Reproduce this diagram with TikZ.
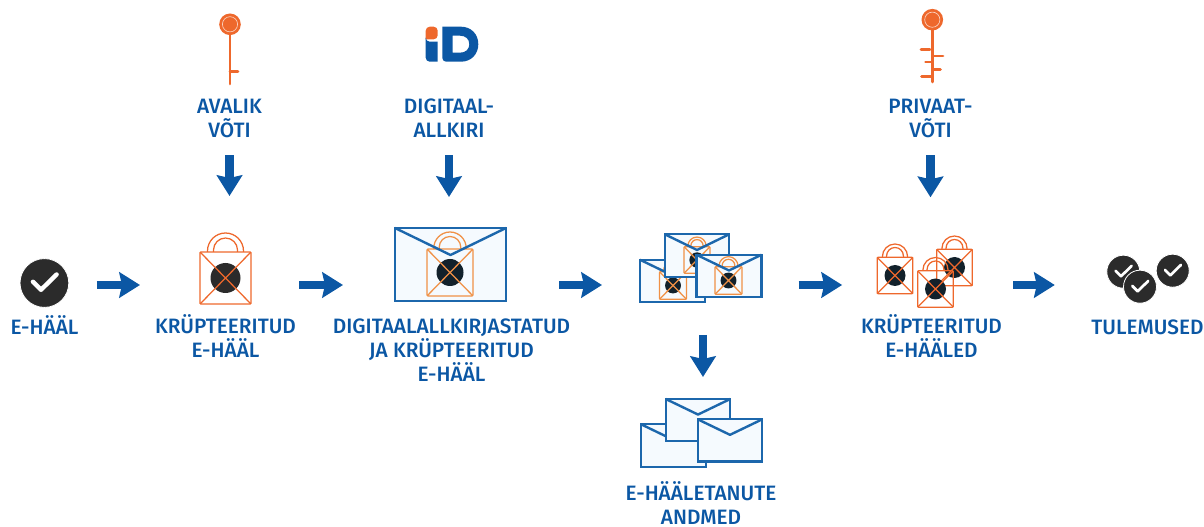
\documentclass[tikz,border=0pt]{standalone}
\usepackage{fontspec}
\setmainfont{Fira Sans}[BoldFont={Fira Sans Medium}]
\usetikzlibrary{arrows.meta}

\definecolor{flowblue}{RGB}{11,87,164}
\definecolor{envblue}{RGB}{28,103,172}
\definecolor{envfill}{RGB}{245,250,254}
\definecolor{keyorange}{RGB}{238,104,44}
\definecolor{softorange}{RGB}{240,145,70}
\definecolor{discdark}{RGB}{43,43,43}
\definecolor{discnavy}{RGB}{18,33,43}

\tikzset{
  flowarrow/.style={draw=flowblue,line width=6.5pt,-{Stealth[length=15.5pt,width=19pt,inset=2pt]}},
  steplabel/.style={text=flowblue,align=center,inner sep=0pt,font=\fontsize{15.6}{18}\selectfont\bfseries},
  lockbody/.style={rectangle,line width=0.95pt,rounded corners=0.8pt,inner sep=0pt,outer sep=0pt},
  envbody/.style={rectangle,draw=envblue,fill=envfill,line width=1.8pt,inner sep=0pt,outer sep=0pt},
  disc/.style={circle,fill=discdark,inner sep=0pt,outer sep=0pt},
  tick/.style={draw=white,line cap=round,line join=round},
  keyline/.style={draw=keyorange,line width=2pt,line cap=round}
}

%name, x, y, scale, line colour, disc colour
\newcommand{\lockicon}[6]{%
  \begin{scope}[shift={(#2,#3)},scale=#4]
    \draw[draw=#5,line width=0.95pt] (-18,-26) -- (-18,-27) arc (180:360:18) -- (18,-26);
    \draw[draw=#5,line width=0.95pt] (-12,-26) -- (-12,-28) arc (180:360:12) -- (12,-26);
    \node[lockbody,draw=#5,minimum width=#4*38.25pt,minimum height=#4*39pt] (#1) at (0,0) {};
    \fill[#6] (0,0) circle (15);
    \draw[draw=#5,line width=0.95pt] (#1.north west) -- (#1.south east) (#1.north east) -- (#1.south west);
  \end{scope}
}
%name, x, y, width, height, what lies under the flap
\newcommand{\envelopeicon}[6]{%
  \node[envbody,minimum width=#4*0.75pt,minimum height=#5*0.75pt] (#1) at (#2,#3) {};
  #6
  \draw[draw=envblue,line width=1.8pt,line join=round] (#1.north west) -- (#2,{#3-0.13*#5}) -- (#1.north east);
}
%name, x, y, radius, tick width
\newcommand{\voteicon}[5]{%
  \node[disc,draw=white,line width=0.6pt,minimum size=2*#4*0.75pt] (#1) at (#2,#3) {};
  \draw[tick,line width=#5] ({#2-0.47*#4},{#3-0.05*#4}) -- ({#2-0.14*#4},{#3+0.28*#4}) -- ({#2+0.5*#4},{#3-0.35*#4});
}

\begin{document}
\begin{tikzpicture}[x=0.75pt,y=0.75pt,yscale=-1]
\useasboundingbox (0,0) rectangle (1204,527);
\coordinate (row) at (0,285);

%Public key
\fill[keyorange] (230,24.3) circle (10.8);
\draw[draw=white!70!keyorange,line width=0.5pt] (230,24.3) circle (7.6);
\draw[keyline] (230,35) -- (230,84) (230,71.7) -- (238,71.7);
%Private key
\fill[keyorange] (932.3,19.7) circle (10.8);
\draw[draw=white!70!keyorange,line width=0.5pt] (932.3,19.7) circle (7.6);
\draw[keyline] (932.3,30) -- (932.3,82) (921,49.7) -- (930,49.7) (934,56) -- (943,56) (925.5,62) -- (931,62) (934,69.3) -- (940.5,69.3) (921.5,76.3) -- (931,76.3);
%Logo
\fill[keyorange,rounded corners=3pt] (425.7,39.3) -- (425.7,26.7) -- (437.7,26.7) -- (437.7,39.3) [sharp corners] -- cycle;
\fill[flowblue,rounded corners=3pt] (425.7,41.7) [sharp corners] -- (437.7,41.7) -- (437.7,61.7) [rounded corners=3pt] -- (425.7,61.7) -- (425.7,41.7) -- cycle;
\fill[flowblue,even odd rule] (442.3,26.7) -- (461,26.7) .. controls (471,26.7) and (478.3,34) .. (478.3,44.2) .. controls (478.3,54.4) and (471,61.7) .. (461,61.7) -- (446,61.7) .. controls (444,61.7) and (442.3,60) .. (442.3,58) -- cycle
  (452.7,35.7) -- (452.7,52.7) -- (460,52.7) .. controls (465.5,52.7) and (469.3,49.4) .. (469.3,44.2) .. controls (469.3,39) and (465.5,35.7) .. (460,35.7) -- cycle;

%Top labels
\node[steplabel] (avalik) at (229.5,118.5) {AVALIK\\VÕTI};
\node[steplabel] (digiallkiri) at (449,118.5) {DIGITAAL-\\ALLKIRI};
\node[steplabel] (privaat) at (930.5,118.5) {PRIVAAT-\\VÕTI};

%Row of icons
\voteicon{evote}{44.4}{283}{24.4}{3.3pt}
\lockicon{lockone}{225.5}{278}{1}{keyorange}{discdark}
\envelopeicon{signedvote}{450.5}{264.5}{111}{73}{%
  \lockicon{signedlock}{450}{272.5}{0.9}{softorange}{discnavy}}
%Pile of envelopes
\envelopeicon{pileleft}{672.5}{281}{65}{42.5}{%
  \lockicon{pilelocka}{673}{285.5}{0.53}{softorange}{discnavy}}
\envelopeicon{piletop}{697}{255.5}{64.5}{42.5}{%
  \lockicon{pilelockb}{697}{260}{0.51}{softorange}{discnavy}}
\envelopeicon{pileright}{729}{276}{65}{42.5}{%
  \lockicon{pilelockc}{728.5}{280.5}{0.53}{softorange}{discnavy}}
%Loose locks
\lockicon{lockleft}{895}{275.5}{0.7}{keyorange}{discnavy}
\lockicon{lockright}{954.5}{267.5}{0.7}{keyorange}{discnavy}
\lockicon{lockfront}{935.5}{289}{0.7}{keyorange}{discnavy}
%Results
\voteicon{resulta}{1123.3}{271.7}{16.5}{2pt}
\voteicon{resultc}{1172.7}{270.7}{16.5}{2pt}
\voteicon{resultb}{1140}{286.7}{16.5}{2pt}
%Envelopes below
\envelopeicon{mailleft}{673.5}{445.5}{65}{42.5}{}
\envelopeicon{mailtop}{698}{420}{64.5}{42}{}
\envelopeicon{mailright}{730}{440.3}{64.5}{42}{}

%Row labels
\node[steplabel] (evotetext) at (44.5,325) {E-HÄÄL};
\node[steplabel] (lockonetext) at (225.5,336.5) {KRÜPTEERITUD\\E-HÄÄL};
\node[steplabel] (signedtext) at (451.5,350) {DIGITAALALLKIRJASTATUD\\JA KRÜPTEERITUD\\E-HÄÄL};
\node[steplabel] (lockstext) at (931.5,336.5) {KRÜPTEERITUD\\E-HÄÄLED};
\node[steplabel] (resulttext) at (1147.5,327) {TULEMUSED};
\node[steplabel] (mailtext) at (701,503.5) {E-HÄÄLETANUTE\\ANDMED};

%Arrows
\coordinate (pilefoot) at (703,335);
\coordinate (mailhead) at (703,377);
\draw[flowarrow,shorten <=21pt,shorten >=45pt] (evote.east |- row) -- (lockone.west |- row);
\draw[flowarrow,shorten <=36pt,shorten >=39pt] (lockone.east |- row) -- (signedvote.west |- row);
\draw[flowarrow,shorten <=39.75pt,shorten >=28.5pt] (signedvote.east |- row) -- (pileleft.west |- row);
\draw[flowarrow,shorten <=27.75pt,shorten >=26.25pt] (pileright.east |- row) -- (lockleft.west |- row);
\draw[flowarrow,shorten <=30.5pt,shorten >=39pt] (lockright.east |- row) -- (resulta.west |- row);
\draw[flowarrow,shorten <=13pt,shorten >=42pt] (avalik.south) -- (avalik.south |- lockone.north);
\draw[flowarrow,shorten <=13pt,shorten >=23.25pt] (digiallkiri.south) -- (digiallkiri.south |- signedvote.north);
\draw[flowarrow,shorten <=13pt,shorten >=39pt] (privaat.south) -- (privaat.south |- lockright.north);
\draw[flowarrow] (pilefoot) -- (mailhead);
\end{tikzpicture}
\end{document}
